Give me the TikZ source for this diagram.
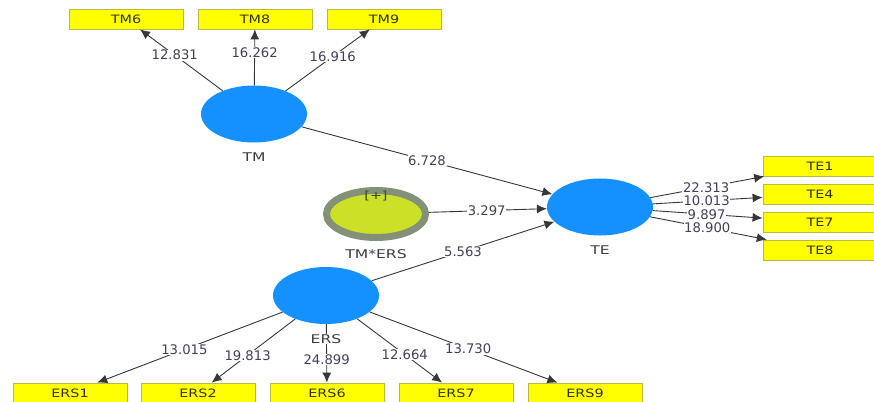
\documentclass[tikz,border=0pt]{standalone}
\usepackage{fontspec}
\setmainfont{DejaVu Sans}
\newfontfamily\boxfont{DejaVu Sans}[FakeStretch=1.25]
\newfontfamily\namefont{DejaVu Sans}[FakeStretch=1.3]
\usetikzlibrary{arrows.meta,shapes.geometric}
\definecolor{lvblue}{RGB}{20,145,255}
\definecolor{indyellow}{RGB}{255,255,0}
\definecolor{indborder}{RGB}{185,185,70}
\definecolor{boxtext}{RGB}{50,50,20}
\definecolor{nametext}{RGB}{60,60,70}
\definecolor{numtext}{RGB}{65,65,90}
\definecolor{linegray}{RGB}{55,55,55}
\definecolor{limefill}{RGB}{204,224,40}
\definecolor{ringgray}{RGB}{130,145,120}
\definecolor{plustext}{RGB}{50,70,20}
\begin{document}
\begin{tikzpicture}[x=1pt,y=-1pt,
  font=\fontsize{13.2}{15}\selectfont,
  lv/.style={ellipse, fill=lvblue, minimum width=106pt, minimum height=57pt, inner sep=0pt},
  modlv/.style={ellipse, fill=limefill, draw=ringgray, line width=7pt, minimum width=99pt, minimum height=47pt, inner sep=0pt},
  ind/.style={rectangle, fill=indyellow, draw=indborder, line width=0.8pt, minimum width=114pt, minimum height=20pt, inner sep=0pt, text=boxtext, font=\boxfont\fontsize{11.5}{13}\selectfont},
  lvname/.style={text=nametext, inner sep=0pt, font=\namefont\fontsize{12}{14}\selectfont},
  conn/.style={draw=linegray, line width=0.9pt, -{Latex[length=10pt,width=9pt]}},
  lbl/.style={fill=white, inner sep=0.6pt, text=numtext}
]
\useasboundingbox (0,0) rectangle (874,401);
\clip (0,0) rectangle (874,401);

% latent variables
\node[lv] (TM) at (254,114) {};
\node[lv] (TE) at (600,207) {};
\node[lv] (ERS) at (326,295.5) {};
\node[modlv] (MOD) at (376,214) {};
\node[text=plustext, inner sep=0pt, font=\namefont\fontsize{11}{13}\selectfont] (plus) at (376,196) {[+]};

\node[lvname] (TMn) at (254,157) {TM};
\node[lvname] (TEn) at (600,250) {TE};
\node[lvname] (MODn) at (376,254) {TM*ERS};

% indicators
\node[ind] (TM6) at (126,19) {TM6};
\node[ind] (TM8) at (255,19) {TM8};
\node[ind] (TM9) at (384,19) {TM9};

\node[ind] (TE1) at (820,166) {TE1};
\node[ind] (TE4) at (820,194) {TE4};
\node[ind] (TE7) at (820,222) {TE7};
\node[ind] (TE8) at (820,250) {TE8};

\node[ind] (ERS1) at (70,393) {ERS1};
\node[ind] (ERS2) at (198,393) {ERS2};
\node[ind] (ERS6) at (327,393) {ERS6};
\node[ind] (ERS7) at (456,393) {ERS7};
\node[ind] (ERS9) at (585,393) {ERS9};

% outer loadings TM
\draw[conn] (TM) -- node[lbl, pos=.58] {12.831} (TM6);
\draw[conn] (TM) -- node[lbl, pos=.59] {16.262} (TM8);
\draw[conn] (TM) -- node[lbl, pos=.56] {16.916} (TM9);

% TE loadings
\draw[conn] (TE) -- node[lbl, pos=.49] {22.313} (TE1);
\draw[conn] (TE) -- node[lbl, pos=.49] {10.013} (TE4);
\draw[conn] (TE) -- node[lbl, pos=.49] {9.897} (TE7);
\draw[conn] (TE) -- node[lbl, pos=.49] {18.900} (TE8);

% ERS loadings
\draw[conn] (ERS) -- node[lbl, pos=.53] {13.015} (ERS1);
\draw[conn] (ERS) -- node[lbl, pos=.57] {19.813} (ERS2);
\draw[conn] (ERS) -- node[lbl, pos=.60] {24.899} (ERS6);
\draw[conn] (ERS) -- node[lbl, pos=.56] {12.664} (ERS7);
\draw[conn] (ERS) -- node[lbl, pos=.525] {13.730} (ERS9);

% structural paths
\draw[conn] (TM) -- node[lbl, pos=.5] {6.728} (TE);
\draw[conn] (MOD) -- node[lbl, pos=.49] {3.297} (TE);
\draw[conn] (ERS) -- node[lbl, pos=.5] {5.563} (TE);

% ERS name drawn over its connector
\node[lvname, fill=white, inner sep=0.6pt] (ERSn) at (326,339) {ERS};
\end{tikzpicture}
\end{document}
